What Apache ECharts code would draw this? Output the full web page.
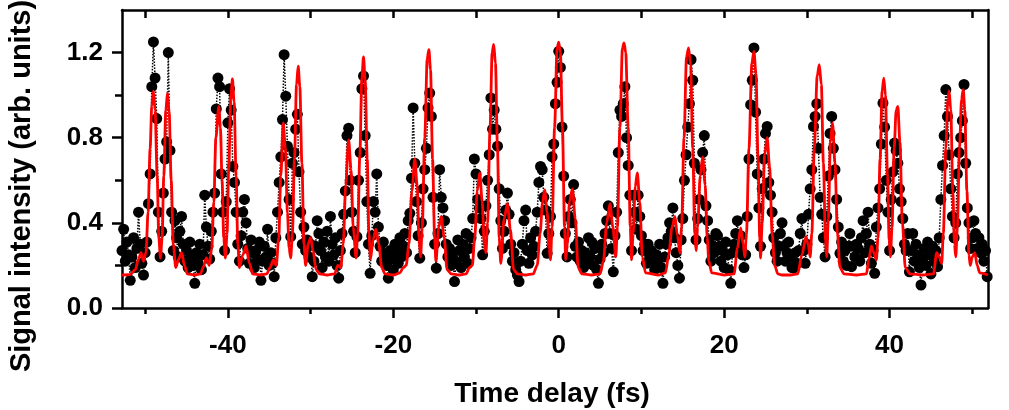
<!DOCTYPE html>
<html>
<head>
<meta charset="utf-8">
<script src="https://cdn.jsdelivr.net/npm/echarts@6/dist/echarts.min.js"></script>
<style>
html,body{margin:0;padding:0;background:#fff;}
#chart{width:1009px;height:410px;}
</style>
</head>
<body>
<div id="chart"></div>
<script>
// ---- data ----
var xTitle = 'Time delay (fs)';
var yTitle = 'Signal intensity (arb. units)';
var xMajorTicks = [-40, -20, 0, 20, 40];
var xMinorTicks = [-50, -30, -10, 10, 30, 50];
var yMajorTicks = [0, 0.4, 0.8, 1.2];
var yMinorTicks = [0.2, 0.6, 1.0];
var xRange = [-52.8, 51.9];
var yRange = [0, 1.4];

// measured signal: first delay, delay step (fs), intensities
var dotStartFs = -52.8;
var dotStepFs = 0.2;
var dotIntensity = [
0.27,0.37,0.22,0.31,0.25,0.13,0.24,0.33,0.19,0.28,
0.45,0.30,0.21,0.155,0.26,0.31,0.49,0.63,1.04,1.25,
1.08,0.89,0.45,0.24,0.36,0.54,0.70,0.78,1.20,0.74,
0.45,0.27,0.41,0.33,0.24,0.36,0.43,0.30,0.22,0.27,
0.19,0.31,0.24,0.20,0.116,0.26,0.21,0.30,0.18,0.25,
0.53,0.38,0.29,0.23,0.36,0.45,0.54,0.935,1.08,1.04,
0.63,0.45,0.27,0.50,0.87,1.03,0.93,0.665,0.59,0.45,
0.30,0.22,0.34,0.45,0.51,0.40,0.28,0.21,0.32,0.26,
0.19,0.27,0.23,0.31,0.13,0.22,0.29,0.24,0.37,0.20,
0.26,0.21,0.147,0.33,0.45,0.59,0.71,0.885,1.19,0.995,
0.76,0.51,0.335,0.68,0.73,0.84,0.91,0.64,0.45,0.30,
0.38,0.27,0.32,0.24,0.30,0.147,0.22,0.29,0.41,0.35,
0.27,0.19,0.31,0.24,0.36,0.22,0.43,0.30,0.25,0.33,
0.20,0.14,0.27,0.35,0.44,0.55,0.81,0.845,0.60,0.45,
0.36,0.26,0.335,0.60,0.73,1.03,1.09,0.81,0.50,0.30,
0.163,0.34,0.50,0.45,0.63,0.38,0.29,0.22,0.31,0.25,
0.20,0.14,0.27,0.23,0.18,0.30,0.26,0.21,0.33,0.24,
0.29,0.35,0.26,0.41,0.445,0.61,0.94,0.68,0.50,0.34,
0.234,0.40,0.56,0.65,0.75,0.94,1.01,0.90,0.52,0.30,
0.187,0.35,0.65,0.52,0.47,0.41,0.30,0.24,0.28,0.20,
0.26,0.124,0.22,0.32,0.27,0.19,0.30,0.24,0.35,0.21,
0.28,0.33,0.42,0.70,0.63,0.51,0.47,0.42,0.25,0.36,
0.48,0.60,0.72,0.987,0.84,0.93,0.84,0.76,0.56,0.41,
0.28,0.36,0.46,0.54,0.44,0.30,0.22,0.26,0.18,0.155,
0.124,0.22,0.30,0.41,0.46,0.27,0.21,0.33,0.25,0.29,
0.36,0.45,0.59,0.665,0.65,0.52,0.46,0.257,0.35,0.43,
0.71,0.77,0.96,1.06,1.206,1.13,0.85,0.62,0.35,0.24,
0.43,0.51,0.40,0.58,0.29,0.24,0.31,0.22,0.27,0.19,
0.26,0.21,0.33,0.24,0.31,0.20,0.28,0.18,0.116,0.23,
0.30,0.26,0.35,0.41,0.48,0.35,0.28,0.17,0.34,0.45,
0.73,0.93,0.90,0.96,1.04,0.80,0.67,0.53,0.27,0.53,
0.45,0.37,0.53,0.43,0.34,0.27,0.30,0.21,0.30,0.24,
0.27,0.22,0.18,0.25,0.22,0.30,0.19,0.116,0.24,0.30,
0.33,0.40,0.36,0.47,0.33,0.26,0.20,0.14,0.32,0.42,
0.60,0.72,0.85,0.96,1.167,1.07,0.68,0.32,0.42,0.51,
0.65,0.73,0.81,0.48,0.41,0.32,0.22,0.29,0.26,0.35,
0.34,0.29,0.22,0.27,0.19,0.31,0.25,0.18,0.116,0.26,
0.30,0.35,0.41,0.29,0.34,0.25,0.19,0.25,0.43,0.70,
0.955,1.07,1.222,0.92,0.63,0.47,0.29,0.56,0.70,0.82,
0.853,0.59,0.53,0.45,0.33,0.26,0.22,0.29,0.35,0.40,
0.29,0.22,0.26,0.31,0.24,0.19,0.187,0.26,0.21,0.27,
0.35,0.42,0.27,0.21,0.30,0.44,0.56,0.65,0.853,0.90,
0.96,0.75,0.52,0.44,0.33,0.24,0.43,0.62,0.82,0.90,
0.75,0.65,0.51,0.38,0.257,0.31,0.22,0.27,0.20,0.29,
0.35,0.194,0.29,0.24,0.30,0.28,0.22,0.33,0.41,0.26,
0.35,0.45,0.30,0.21,0.27,0.163,0.38,0.47,0.56,0.77,
0.963,0.85,0.60,0.45,0.27,0.51,0.64,0.775,0.74,0.68,
0.56,0.50,0.42,0.30,0.27,0.35,0.17,0.27,0.35,0.22,
0.30,0.25,0.19,0.108,0.23,0.28,0.20,0.31,0.25,0.16,
0.29,0.22,0.27,0.194,0.33,0.51,0.67,0.81,1.026,0.90,
0.72,0.56,0.43,0.33,0.40,0.63,0.73,0.80,0.88,1.05,
0.68,0.47,0.40,0.28,0.33,0.41,0.35,0.28,0.33,0.26,
0.30,0.22,0.27,0.147
];

// fitted curve: [delay (fs), intensity]
var fitCurve = [
[-52.8,0.155],[-51.8,0.157],[-51.2,0.18],[-50.8,0.23],[-50.5,0.26],[-50.2,0.22],[-49.9,0.26],[-49.65,0.45],[-49.4,0.75],[-49.2,0.95],[-49.0,1.02],[-48.8,0.93],[-48.55,0.62],[-48.35,0.33],[-48.15,0.235],[-47.95,0.33],[-47.75,0.62],[-47.5,0.93],[-47.3,1.01],[-47.1,0.92],[-46.85,0.6],[-46.6,0.3],[-46.3,0.19],[-45.95,0.23],[-45.6,0.26],[-45.25,0.2],[-44.9,0.16],[-44.0,0.155],[-43.3,0.16],[-43.0,0.19],[-42.6,0.235],[-42.25,0.2],[-41.95,0.28],[-41.7,0.5],[-41.45,0.8],[-41.1,0.947],[-40.9,0.85],[-40.7,0.6],[-40.5,0.33],[-40.3,0.235],[-40.1,0.35],[-39.9,0.65],[-39.65,0.98],[-39.45,1.076],[-39.25,0.97],[-39.0,0.62],[-38.8,0.3],[-38.6,0.19],[-38.2,0.25],[-37.8,0.29],[-37.4,0.21],[-37.0,0.16],[-36.0,0.155],[-35.3,0.16],[-34.9,0.19],[-34.5,0.226],[-34.15,0.2],[-33.85,0.33],[-33.6,0.62],[-33.3,0.87],[-33.05,0.75],[-32.8,0.45],[-32.6,0.28],[-32.4,0.235],[-32.2,0.35],[-31.95,0.7],[-31.7,1.05],[-31.5,1.136],[-31.3,1.04],[-31.05,0.68],[-30.8,0.3],[-30.6,0.2],[-30.3,0.3],[-30.0,0.33],[-29.7,0.27],[-29.35,0.18],[-28.9,0.16],[-28.0,0.155],[-27.1,0.16],[-26.7,0.2],[-26.35,0.19],[-26.05,0.3],[-25.75,0.58],[-25.4,0.79],[-25.1,0.65],[-24.85,0.38],[-24.5,0.235],[-24.3,0.35],[-24.05,0.72],[-23.8,1.08],[-23.6,1.18],[-23.4,1.07],[-23.15,0.7],[-22.95,0.35],[-22.75,0.23],[-22.45,0.32],[-22.1,0.37],[-21.75,0.3],[-21.4,0.19],[-21.0,0.16],[-20.0,0.155],[-19.2,0.165],[-18.8,0.19],[-18.45,0.2],[-18.1,0.3],[-17.75,0.55],[-17.4,0.7],[-17.1,0.57],[-16.9,0.33],[-16.7,0.24],[-16.5,0.38],[-16.2,0.8],[-15.9,1.17],[-15.7,1.214],[-15.5,1.12],[-15.25,0.7],[-15.0,0.33],[-14.85,0.22],[-14.5,0.38],[-14.2,0.43],[-13.85,0.33],[-13.5,0.18],[-13.0,0.16],[-12.0,0.155],[-11.2,0.16],[-10.8,0.19],[-10.45,0.2],[-10.15,0.33],[-9.85,0.55],[-9.55,0.635],[-9.25,0.5],[-9.0,0.3],[-8.8,0.26],[-8.6,0.4],[-8.3,0.85],[-8.05,1.2],[-7.86,1.238],[-7.65,1.15],[-7.4,0.75],[-7.2,0.33],[-7.0,0.21],[-6.6,0.42],[-6.2,0.49],[-5.85,0.37],[-5.45,0.18],[-5.0,0.16],[-4.0,0.155],[-3.1,0.16],[-2.6,0.2],[-2.25,0.35],[-1.95,0.5],[-1.7,0.555],[-1.4,0.45],[-1.15,0.28],[-1.0,0.226],[-0.8,0.38],[-0.5,0.85],[-0.2,1.22],[0.0,1.249],[0.2,1.2],[0.45,0.85],[0.7,0.38],[0.85,0.226],[1.05,0.3],[1.3,0.5],[1.65,0.56],[2.0,0.42],[2.35,0.19],[2.8,0.16],[4.0,0.155],[5.0,0.16],[5.4,0.22],[5.8,0.4],[6.2,0.49],[6.55,0.38],[6.9,0.24],[7.1,0.38],[7.4,0.85],[7.7,1.22],[7.9,1.245],[8.1,1.2],[8.4,0.85],[8.65,0.38],[8.8,0.226],[9.0,0.35],[9.25,0.57],[9.5,0.635],[9.8,0.5],[10.1,0.24],[10.5,0.165],[12.0,0.155],[12.9,0.165],[13.3,0.25],[13.7,0.38],[14.05,0.43],[14.35,0.34],[14.65,0.257],[14.85,0.38],[15.15,0.8],[15.45,1.18],[15.7,1.222],[15.95,1.14],[16.2,0.75],[16.45,0.35],[16.6,0.27],[16.8,0.38],[17.1,0.62],[17.4,0.71],[17.7,0.58],[17.95,0.33],[18.15,0.22],[18.5,0.165],[20.0,0.155],[21.2,0.16],[21.6,0.28],[22.0,0.376],[22.3,0.3],[22.5,0.24],[22.7,0.35],[23.0,0.75],[23.35,1.15],[23.6,1.206],[23.85,1.1],[24.1,0.7],[24.3,0.33],[24.4,0.235],[24.6,0.4],[24.9,0.72],[25.2,0.80],[25.5,0.66],[25.8,0.35],[26.1,0.2],[26.5,0.16],[27.0,0.155],[28.0,0.155],[28.9,0.16],[29.4,0.25],[29.9,0.335],[30.15,0.3],[30.4,0.24],[30.6,0.35],[30.9,0.75],[31.25,1.09],[31.5,1.143],[31.75,1.05],[32.0,0.68],[32.25,0.32],[32.4,0.24],[32.6,0.42],[32.85,0.78],[33.1,0.87],[33.4,0.68],[33.7,0.35],[34.0,0.19],[34.5,0.16],[36.0,0.155],[37.2,0.16],[37.5,0.23],[37.8,0.29],[38.1,0.26],[38.4,0.226],[38.6,0.33],[38.85,0.7],[39.1,1.02],[39.3,1.08],[39.5,1.0],[39.75,0.62],[39.95,0.32],[40.1,0.24],[40.3,0.38],[40.55,0.75],[40.8,0.93],[41.0,0.947],[41.25,0.78],[41.55,0.4],[41.9,0.19],[42.5,0.16],[44.0,0.155],[45.3,0.16],[45.7,0.26],[46.0,0.24],[46.3,0.21],[46.5,0.35],[46.8,0.75],[47.05,0.98],[47.2,1.02],[47.4,0.93],[47.65,0.55],[47.85,0.3],[48.0,0.24],[48.2,0.38],[48.45,0.75],[48.7,0.98],[48.9,1.026],[49.1,0.93],[49.35,0.55],[49.6,0.25],[49.75,0.2],[50.0,0.24],[50.3,0.26],[50.6,0.2],[50.9,0.165],[51.9,0.155]
];

// ---- chart ----
var FONT = '"Liberation Sans", Arial, Helvetica, sans-serif';
var dotData = dotIntensity.map(function (v, i) {
  return [+(dotStartFs + i * dotStepFs).toFixed(3), v];
});

var lineBlack = { color: '#000', width: 2.5 };
var labelStyle = { color: '#000', fontFamily: FONT, fontWeight: 'bold', fontSize: 26 };

var chart = echarts.init(document.getElementById('chart'), null, { renderer: 'canvas' });
chart.setOption({
  animation: false,
  backgroundColor: '#fff',
  grid: { left: 122, right: 21, top: 10, bottom: 102, containLabel: false },
  xAxis: [
    { // bottom, major ticks + labels
      type: 'value', min: xRange[0], max: xRange[1], position: 'bottom',
      axisLine: { show: true, lineStyle: lineBlack, onZero: false },
      axisTick: { show: true, inside: false, length: 10, lineStyle: { color: '#000', width: 2.5 }, customValues: xMajorTicks },
      axisLabel: Object.assign({ margin: 25, customValues: xMajorTicks, formatter: function (v) { return String(v); } }, labelStyle),
      splitLine: { show: false }
    },
    { // bottom minor ticks
      type: 'value', min: xRange[0], max: xRange[1], position: 'bottom',
      axisLine: { show: false, onZero: false },
      axisTick: { show: true, inside: false, length: 6, lineStyle: { color: '#000', width: 2.5 }, customValues: xMinorTicks },
      axisLabel: { show: false }, splitLine: { show: false }
    },
    { // top frame with inward ticks
      type: 'value', min: xRange[0], max: xRange[1], position: 'top',
      axisLine: { show: true, lineStyle: lineBlack, onZero: false },
      axisTick: { show: true, inside: true, length: 8, lineStyle: { color: '#000', width: 2.5 }, customValues: xMajorTicks.concat(xMinorTicks) },
      axisLabel: { show: false }, splitLine: { show: false }
    }
  ],
  yAxis: [
    { // left, major ticks + labels
      type: 'value', min: yRange[0], max: yRange[1], position: 'left',
      axisLine: { show: true, lineStyle: lineBlack, onZero: false },
      axisTick: { show: true, inside: false, length: 10, lineStyle: { color: '#000', width: 2.5 }, customValues: yMajorTicks },
      axisLabel: Object.assign({ margin: 19, customValues: yMajorTicks, formatter: function (v) { return v.toFixed(1); } }, labelStyle),
      splitLine: { show: false }
    },
    { // left minor ticks
      type: 'value', min: yRange[0], max: yRange[1], position: 'left',
      axisLine: { show: false, onZero: false },
      axisTick: { show: true, inside: false, length: 7, lineStyle: { color: '#000', width: 2.5 }, customValues: yMinorTicks },
      axisLabel: { show: false }, splitLine: { show: false }
    },
    { // right frame
      type: 'value', min: yRange[0], max: yRange[1], position: 'right',
      axisLine: { show: true, lineStyle: lineBlack, onZero: false },
      axisTick: { show: false }, axisLabel: { show: false }, splitLine: { show: false }
    }
  ],
  graphic: [
    {
      type: 'text', x: 552, y: 394, z: 100,
      style: { text: xTitle, font: 'bold 28px ' + FONT, fill: '#000', align: 'center', verticalAlign: 'middle' }
    },
    {
      type: 'text', x: 22, y: 186, rotation: Math.PI / 2, z: 100,
      style: { text: yTitle, font: 'bold 29px ' + FONT, fill: '#000', align: 'center', verticalAlign: 'middle' }
    }
  ],
  series: [
    {
      name: 'measured', type: 'line', xAxisIndex: 0, yAxisIndex: 0,
      data: dotData, symbol: 'circle', symbolSize: 11, showSymbol: true,
      itemStyle: { color: '#000' },
      lineStyle: { color: '#000', width: 1.5, type: 'dotted' },
      z: 2, clip: true
    },
    {
      name: 'fit', type: 'line', xAxisIndex: 0, yAxisIndex: 0,
      data: fitCurve, showSymbol: false, symbol: 'none',
      smooth: 0.3, smoothMonotone: 'x',
      lineStyle: { color: '#ff0000', width: 2.8 },
      z: 3, clip: true
    }
  ]
});
</script>
</body>
</html>
